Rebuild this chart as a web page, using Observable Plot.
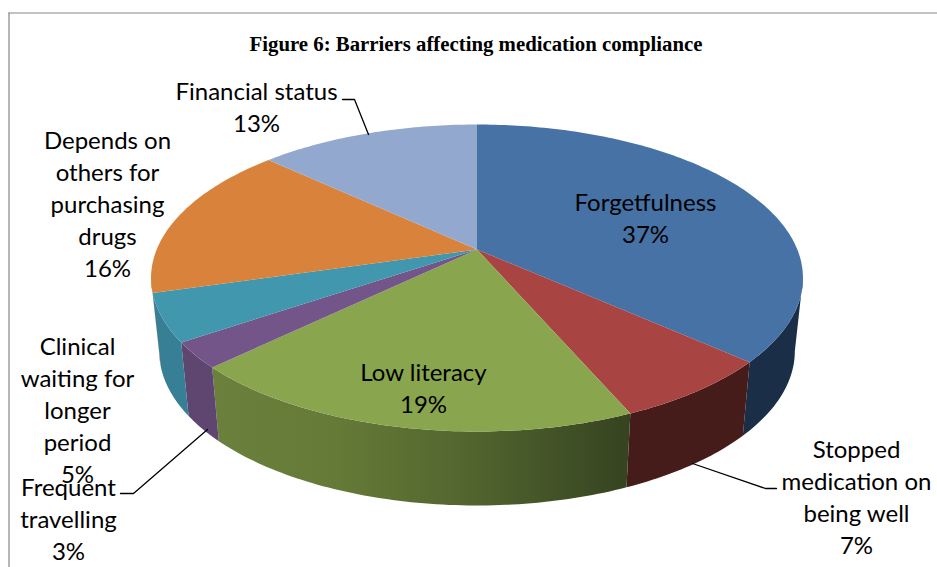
<!DOCTYPE html>
<html>
<head>
<meta charset="utf-8">
<style>
html,body{margin:0;padding:0;background:#fff;overflow:hidden}
svg{display:block}
</style>
<script src="https://cdn.jsdelivr.net/npm/d3@7"></script>
<script src="https://cdn.jsdelivr.net/npm/@observablehq/plot@0.6"></script>
</head>
<body>
<div id="chart"></div>
<script>
// ---- data ----
const names = ["Forgetfulness","Stopped medication on being well","Low literacy","Frequent travelling","Clinical waiting for longer period","Depends on others for purchasing drugs","Financial status"];
// slice sizes (their printed labels are rounded)
const values = [36.6,6.9,19.3,2.7,5.0,16.4,13.1];
const topColors = ["#4672a6","#a84543","#89a54e","#73558a","#4197ae","#d9823c","#93a8ce"];
const wallColors = ["#1a2e47","#451c1a","url(#greenWall)","#5e4670","#367f94","#b06a30","#7a8cab"];
const titleText = "Figure 6: Barriers affecting medication compliance";
const labelTexts = ["Forgetfulness\n37%","Stopped\nmedication on\nbeing well\n7%","Low literacy\n19%","Frequent\ntravelling\n3%","Clinical\nwaiting for\nlonger\nperiod\n5%","Depends on\nothers for\npurchasing\ndrugs\n16%","Financial status\n13%"];

// ---- layout ----
const W = 937, H = 567;
const cx = 476.5, cy = 249, a = 320.3, b = 148.2, p = 0.1857;
const wallScale = 0.975, wallDrop = 73, wallB = 149;
const xU = px => (px - cx) / a, yU = py => (py - cy) / b;
const labelPos = [[645,216],[856,495],[423,386],[68,517],[77,408],[107,202],[256,105]];
const leaders = [
  [[342,99],[354,99],[368,134]],
  [[120,493],[133,493],[207,429]],
  [[776,488],[765,488],[692,463]]
];

// ---- geometry from the values ----
const total = d3.sum(values);
const rim = t => {
  const u = Math.sin(t), v = -Math.cos(t), k = 1 - p * v;
  return [u / k, v / k];
};
const rimBottom = t => {
  const [x, y] = rim(t);
  return [x * wallScale, y * wallB / b + wallDrop / b];
};
const tMax = Math.acos(-p);              // right silhouette
const tMin = 2 * Math.PI - tMax;         // left silhouette
const tops = [], walls = [];
let acc = 0;
names.forEach((name, i) => {
  const t0 = acc / total * 2 * Math.PI;
  acc += values[i];
  const t1 = acc / total * 2 * Math.PI;
  const n = Math.max(4, Math.ceil((t1 - t0) * 60));
  tops.push({name, x: 0, y: 0});
  for (let j = 0; j <= n; j++) {
    const [x, y] = rim(t0 + (t1 - t0) * j / n);
    tops.push({name, x, y});
  }
  const s0 = Math.max(t0, tMax), s1 = Math.min(t1, tMin);
  if (s1 > s0) {
    const m = Math.max(4, Math.ceil((s1 - s0) * 60));
    const key = name + " wall";
    for (let j = 0; j <= m; j++) {
      const [x, y] = rim(s0 + (s1 - s0) * j / m);
      walls.push({name: key, x, y});
    }
    for (let j = m; j >= 0; j--) {
      const [x, y] = rimBottom(s0 + (s1 - s0) * j / m);
      walls.push({name: key, x, y});
    }
  }
});
const colorDomain = [...names, ...names.map(n => n + " wall")];
const colorRange = [...topColors, ...wallColors];

const gradient = () => {
  const svgNS = "http://www.w3.org/2000/svg";
  const defs = document.createElementNS(svgNS, "defs");
  const g = document.createElementNS(svgNS, "linearGradient");
  g.setAttribute("id", "greenWall");
  g.setAttribute("x1", "0"); g.setAttribute("x2", "1");
  g.setAttribute("y1", "0"); g.setAttribute("y2", "0");
  [[0,"#6b803c"],[0.3,"#657a37"],[0.6,"#53662f"],[1,"#354320"]].forEach(([o,c]) => {
    const s = document.createElementNS(svgNS, "stop");
    s.setAttribute("offset", o); s.setAttribute("stop-color", c);
    g.appendChild(s);
  });
  defs.appendChild(g);
  return defs;
};

const labelFont = {fontFamily: "Lato", fontSize: 24, lineHeight: 1.333, fill: "#000", textAnchor: "middle", lineAnchor: "middle", frameAnchor: "top-left"};

const chart = Plot.plot({
  width: W, height: H,
  margin: 0,
  style: {background: "#fff"},
  x: {domain: [-1, 1], range: [cx - a, cx + a], axis: null},
  y: {domain: [-1, 1], range: [cy - b, cy + b], axis: null},
  color: {domain: colorDomain, range: colorRange},
  marks: [
    gradient,
    Plot.ruleX([xU(8.5)], {y1: yU(12.5), y2: yU(H), stroke: "#868686", strokeWidth: 1.2}),
    Plot.ruleY([yU(12.5)], {x1: xU(8.5), x2: xU(W), stroke: "#868686", strokeWidth: 1.2}),
    Plot.line(walls, {x: "x", y: "y", z: "name", fill: "name", stroke: "none"}),
    Plot.line(tops, {x: "x", y: "y", z: "name", fill: "name", stroke: "none"}),
    ...leaders.map(l => Plot.line(l, {x: d => xU(d[0]), y: d => yU(d[1]), stroke: "#000", strokeWidth: 1.3})),
    Plot.text([titleText], {text: d => d, frameAnchor: "top-left", dx: 475.5, dy: 44, textAnchor: "middle", lineAnchor: "middle", fontFamily: "Liberation Serif", fontWeight: "bold", fontSize: 20.8, fill: "#000"}),
    ...labelTexts.map((t, i) => Plot.text([t], {text: d => d, dx: labelPos[i][0], dy: labelPos[i][1], ...labelFont}))
  ]
});
document.getElementById("chart").appendChild(chart);
</script>
</body>
</html>
